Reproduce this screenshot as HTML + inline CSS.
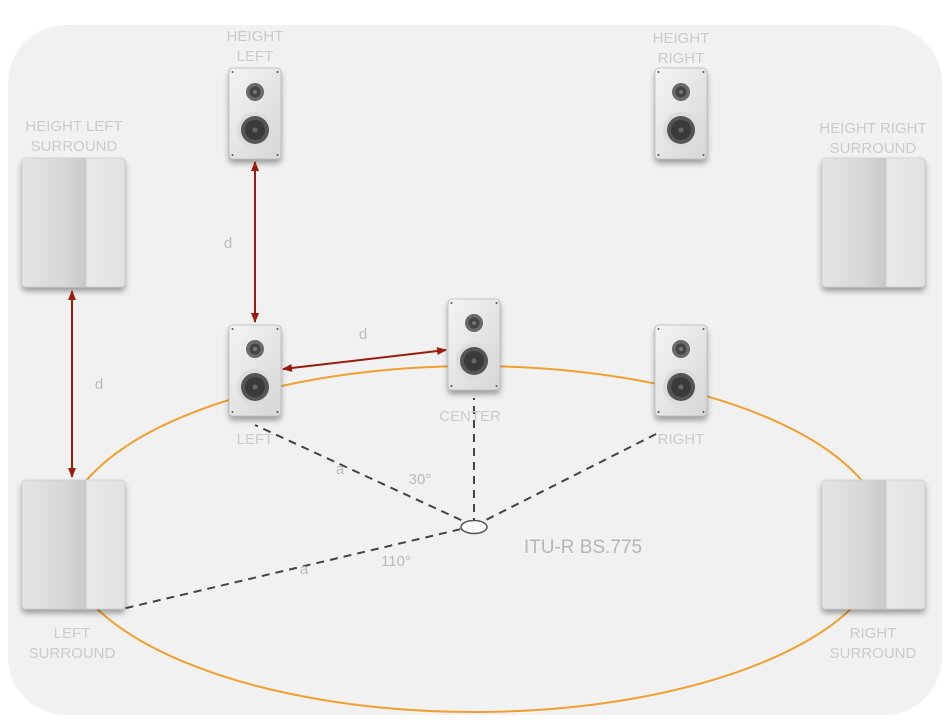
<!DOCTYPE html>
<html><head><meta charset="utf-8"><style>
html,body{margin:0;padding:0;background:#fff;width:950px;height:721px;overflow:hidden}
text{font-family:"Liberation Sans",sans-serif}
</style></head><body>
<svg width="950" height="721" viewBox="0 0 950 721" xmlns="http://www.w3.org/2000/svg">
<defs>
<linearGradient id="sp" x1="0" y1="0" x2="1" y2="1">
<stop offset="0" stop-color="#f4f4f4"/><stop offset="1" stop-color="#d6d6d6"/></linearGradient>
<linearGradient id="box" x1="0" y1="0" x2="1" y2="0">
<stop offset="0" stop-color="#e4e4e4"/><stop offset="0.4" stop-color="#d8d8d8"/><stop offset="0.62" stop-color="#c8c8c8"/><stop offset="0.63" stop-color="#e8e8e8"/><stop offset="1" stop-color="#e2e2e2"/></linearGradient>
<filter id="sh" x="-30%" y="-30%" width="160%" height="170%"><feDropShadow dx="0" dy="4" stdDeviation="3" flood-color="#000" flood-opacity="0.35"/></filter>
<marker id="ar" markerWidth="10" markerHeight="8" refX="9" refY="4" orient="auto-start-reverse" markerUnits="userSpaceOnUse"><path d="M0,0 L10,4 L0,8 z" fill="#9b1a10"/></marker>
<g id="spk">
<rect x="0" y="0" width="52" height="91" rx="4" fill="url(#sp)" stroke="#bbb" stroke-width="0.8" filter="url(#sh)"/>
<circle cx="3.5" cy="4" r="1" fill="#555"/><circle cx="48.5" cy="4" r="1" fill="#555"/>
<circle cx="3.5" cy="87" r="1" fill="#555"/><circle cx="48.5" cy="87" r="1" fill="#555"/>
<circle cx="26" cy="24" r="9" fill="#6a6a6a"/><circle cx="26" cy="24" r="5.5" fill="#444"/><circle cx="26" cy="24" r="2" fill="#777"/>
<circle cx="26" cy="62" r="18" fill="#dcdcdc"/><circle cx="26" cy="62" r="14" fill="#555"/><circle cx="26" cy="62" r="10" fill="#3a3a3a"/><circle cx="26" cy="62" r="2.5" fill="#666"/>
</g>
<g id="bx"><rect x="0" y="0" width="103" height="129" rx="4" fill="url(#box)" stroke="#ccc" stroke-width="0.8" filter="url(#sh)"/></g>
</defs>
<rect x="8" y="25" width="934" height="690" rx="58" fill="#f1f1f1"/>
<ellipse cx="474" cy="539" rx="412" ry="173" fill="none" stroke="#f0a030" stroke-width="2"/>
<g stroke="#444" stroke-width="2" stroke-dasharray="8,6" fill="none">
<line x1="474" y1="526" x2="255" y2="425"/>
<line x1="474" y1="526" x2="474" y2="398"/>
<line x1="474" y1="526" x2="660" y2="432"/>
<line x1="474" y1="526" x2="122" y2="609"/>
</g>
<ellipse cx="474" cy="527" rx="13" ry="6.5" fill="#fff" stroke="#555" stroke-width="1.5"/>
<use href="#bx" x="22" y="158"/><use href="#bx" x="822" y="158"/>
<use href="#bx" x="22" y="480"/><use href="#bx" x="822" y="480"/>
<use href="#spk" x="229" y="68"/><use href="#spk" x="655" y="68"/>
<use href="#spk" x="229" y="325"/><use href="#spk" x="448" y="299"/><use href="#spk" x="655" y="325"/>
<g stroke="#9b1a10" stroke-width="2" fill="none">
<line x1="255" y1="162" x2="255" y2="322" marker-start="url(#ar)" marker-end="url(#ar)"/>
<line x1="72" y1="291" x2="72" y2="477" marker-start="url(#ar)" marker-end="url(#ar)"/>
<line x1="283" y1="369" x2="446" y2="350" marker-start="url(#ar)" marker-end="url(#ar)"/>
</g>
<g fill="#cbcbcb" font-size="15" text-anchor="middle">
<text x="255" y="41">HEIGHT</text><text x="255" y="61">LEFT</text>
<text x="681" y="43">HEIGHT</text><text x="681" y="63">RIGHT</text>
<text x="74" y="131">HEIGHT LEFT</text><text x="74" y="151">SURROUND</text>
<text x="873" y="133">HEIGHT RIGHT</text><text x="873" y="153">SURROUND</text>
<text x="255" y="444">LEFT</text><text x="470" y="421">CENTER</text><text x="681" y="444">RIGHT</text>
<text x="72" y="638">LEFT</text><text x="72" y="658">SURROUND</text>
<text x="873" y="638">RIGHT</text><text x="873" y="658">SURROUND</text>
</g>
<g fill="#bbb" font-size="15" text-anchor="middle">
<text x="228" y="248">d</text><text x="363" y="339">d</text><text x="99" y="389">d</text>
<text x="340" y="474">a</text><text x="304" y="574">a</text>
<text x="420" y="484">30°</text><text x="396" y="566">110°</text>
</g>
<text x="583" y="553" fill="#b5b5b5" font-size="19" text-anchor="middle">ITU-R BS.775</text>
</svg>
</body></html>
